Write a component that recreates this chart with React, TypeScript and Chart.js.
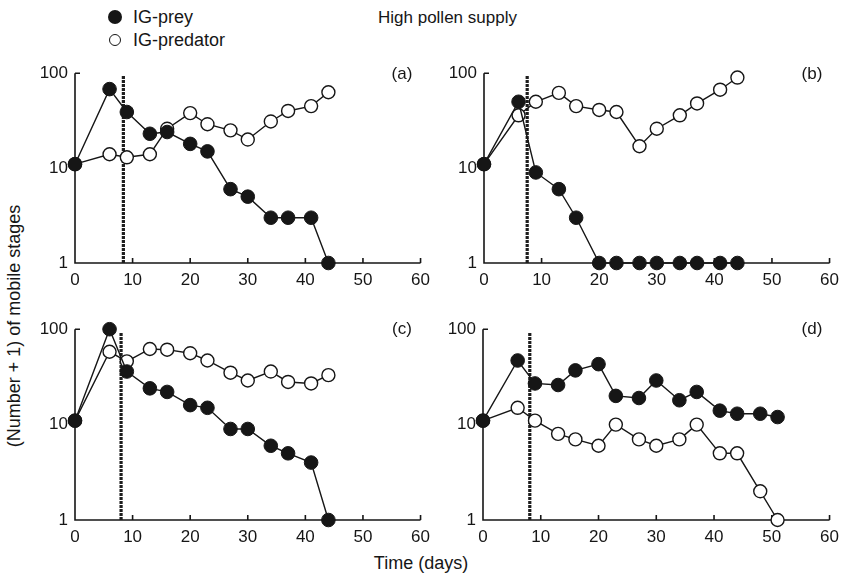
import React, { useEffect, useRef } from "react";
import { Chart, registerables } from "chart.js";

Chart.register(...registerables);

// ---- data ----
const X_TICKS = [0, 10, 20, 30, 40, 50, 60];
const Y_TICKS = [1, 10, 100];

const daysA = [0, 6, 9, 13, 16, 20, 23, 27, 30, 34, 37, 41, 44];
const preyA = [11, 68, 39, 23, 24, 18, 15, 6, 5, 3, 3, 3, 1];
const predA = [11, 14, 13, 14, 26, 38, 29, 25, 20, 31, 40, 45, 63];

const daysB = [0, 6, 9, 13, 16, 20, 23, 27, 30, 34, 37, 41, 44];
const preyB = [11, 50, 9, 6, 3, 1, 1, 1, 1, 1, 1, 1, 1];
const predB = [11, 36, 50, 62, 45, 41, 39, 17, 26, 36, 48, 67, 90];

const daysC = [0, 6, 9, 13, 16, 20, 23, 27, 30, 34, 37, 41, 44];
const preyC = [11, 100, 36, 24, 22, 16, 15, 9, 9, 6, 5, 4, 1];
const predC = [11, 58, 46, 62, 61, 56, 47, 35, 29, 36, 28, 27, 33];

const daysD = [0, 6, 9, 13, 16, 20, 23, 27, 30, 34, 37, 41, 44, 48, 51];
const preyD = [11, 47, 27, 26, 37, 43, 20, 19, 29, 18, 22, 14, 13, 13, 12];
const predD = [11, 15, 11, 8, 7, 6, 10, 7, 6, 7, 10, 5, 5, 2, 1];

const removalDays = [8.4, 7.5, 8.0, 8.1];
const removalTop = [94, 94, 92, 92];
const panelLabels = ["(a)", "(b)", "(c)", "(d)"];

const FONT = "'Liberation Sans', Arial, Helvetica, sans-serif";
const INK = "#161616";

const PAD_L = 40;
const PAD_T = 14;
const PAD_R = 16;
const PAD_B = 30;

type Rect = { x0: number; x60: number; yTop: number; yBot: number };

const axesPlugin = {
  id: "customAxes",
  beforeDatasetsDraw(chart: any) {
    const { ctx, chartArea, scales } = chart;
    const { left, right, top, bottom } = chartArea;
    ctx.save();
    ctx.strokeStyle = INK;
    ctx.lineWidth = 1.6;
    ctx.beginPath();
    ctx.moveTo(left, top);
    ctx.lineTo(left, bottom);
    ctx.lineTo(right, bottom);
    X_TICKS.forEach((v) => {
      const px = scales.x.getPixelForValue(v);
      ctx.moveTo(px, bottom);
      ctx.lineTo(px, bottom - 5);
    });
    Y_TICKS.forEach((v) => {
      const py = scales.y.getPixelForValue(v);
      ctx.moveTo(left, py);
      ctx.lineTo(left + 5, py);
    });
    ctx.stroke();
    ctx.restore();
  },
};

function Panel(props: {
  rect: Rect;
  days: number[];
  prey: number[];
  pred: number[];
  removal: number;
  removalTop: number;
}) {
  const ref = useRef<HTMLCanvasElement | null>(null);
  const { rect, days, prey, pred, removal, removalTop } = props;
  const width = rect.x60 - rect.x0 + PAD_L + PAD_R;
  const height = rect.yBot - rect.yTop + PAD_T + PAD_B;

  useEffect(() => {
    if (!ref.current) return;
    const chart = new Chart(ref.current, {
      type: "line",
      data: {
        datasets: [
          {
            label: "IG-prey",
            data: days.map((d, i) => ({ x: d, y: prey[i] })),
            borderColor: INK,
            borderWidth: 1.4,
            pointRadius: 6.8,
            pointBackgroundColor: INK,
            pointBorderColor: INK,
            pointBorderWidth: 1,
            clip: false,
          },
          {
            label: "IG-predator",
            data: days.map((d, i) => ({ x: d, y: pred[i] })),
            borderColor: INK,
            borderWidth: 1.4,
            pointRadius: 6.5,
            pointBackgroundColor: "#ffffff",
            pointBorderColor: INK,
            pointBorderWidth: 1.4,
            clip: false,
          },
          {
            label: "removal",
            data: [
              { x: removal, y: 1 },
              { x: removal, y: removalTop },
            ],
            borderColor: "#1e1e1e",
            borderWidth: 3.2,
            borderDash: [3, 1],
            pointRadius: 0,
            clip: false,
          },
        ],
      } as any,
      options: {
        responsive: false,
        animation: false,
        devicePixelRatio: 1,
        layout: { padding: { left: 0, top: PAD_T, right: PAD_R, bottom: 0 } },
        plugins: {
          legend: { display: false },
          tooltip: { enabled: false },
        },
        scales: {
          x: {
            type: "linear",
            min: 0,
            max: 60,
            grid: { display: false, drawTicks: false },
            border: { display: false },
            afterBuildTicks(s: any) {
              s.ticks = X_TICKS.map((v) => ({ value: v }));
            },
            afterFit(s: any) {
              s.height = PAD_B;
            },
            ticks: {
              color: INK,
              padding: 7,
              maxRotation: 0,
              font: { family: FONT, size: 17 },
              callback: (v: any) => String(v),
            },
          },
          y: {
            type: "logarithmic",
            min: 1,
            max: 100,
            grid: { display: false, drawTicks: false },
            border: { display: false },
            afterBuildTicks(s: any) {
              s.ticks = Y_TICKS.map((v) => ({ value: v }));
            },
            afterFit(s: any) {
              s.width = PAD_L;
            },
            ticks: {
              color: INK,
              padding: 7,
              font: { family: FONT, size: 17 },
              callback: (v: any) => String(v),
            },
          },
        },
      } as any,
      plugins: [axesPlugin],
    });
    return () => chart.destroy();
  }, []);

  return (
    <canvas
      ref={ref}
      width={width}
      height={height}
      style={{
        position: "absolute",
        left: rect.x0 - PAD_L,
        top: rect.yTop - PAD_T,
        width,
        height,
      }}
    />
  );
}

const rects: Rect[] = [
  { x0: 75, x60: 421, yTop: 70, yBot: 263 },
  { x0: 484, x60: 830, yTop: 70, yBot: 263 },
  { x0: 75, x60: 421, yTop: 326, yBot: 520 },
  { x0: 483, x60: 830, yTop: 326, yBot: 520 },
];

const panelData = [
  { days: daysA, prey: preyA, pred: predA },
  { days: daysB, prey: preyB, pred: predB },
  { days: daysC, prey: preyC, pred: predC },
  { days: daysD, prey: preyD, pred: predD },
];

const labelPos = [
  { x: 402, y: 73 },
  { x: 812, y: 73 },
  { x: 402, y: 328 },
  { x: 812, y: 328 },
];

const textStyle: React.CSSProperties = {
  position: "absolute",
  fontFamily: FONT,
  color: INK,
  whiteSpace: "nowrap",
  lineHeight: 1,
};

export default function App() {
  return (
    <div
      style={{
        position: "fixed",
        left: 0,
        top: 0,
        width: 841,
        height: 574,
        background: "#ffffff",
        overflow: "hidden",
      }}
    >
      {rects.map((r, i) => (
        <Panel
          key={i}
          rect={r}
          days={panelData[i].days}
          prey={panelData[i].prey}
          pred={panelData[i].pred}
          removal={removalDays[i]}
          removalTop={removalTop[i]}
        />
      ))}
      {panelLabels.map((t, i) => (
        <div
          key={t}
          style={{
            ...textStyle,
            left: labelPos[i].x,
            top: labelPos[i].y,
            fontSize: 17,
            transform: "translate(-50%, -50%)",
          }}
        >
          {t}
        </div>
      ))}
      {/* legend */}
      <div
        style={{
          position: "absolute",
          left: 108,
          top: 10,
          width: 14,
          height: 14,
          borderRadius: "50%",
          background: INK,
        }}
      />
      <div
        style={{
          position: "absolute",
          left: 109,
          top: 34,
          width: 10,
          height: 10,
          borderRadius: "50%",
          border: `1.5px solid ${INK}`,
          background: "#fff",
        }}
      />
      <div style={{ ...textStyle, left: 133, top: 17, fontSize: 18, transform: "translateY(-50%)" }}>
        IG-prey
      </div>
      <div style={{ ...textStyle, left: 133, top: 40, fontSize: 18, transform: "translateY(-50%)" }}>
        IG-predator
      </div>
      <div style={{ ...textStyle, left: 378, top: 17, fontSize: 17, transform: "translateY(-50%)" }}>
        High pollen supply
      </div>
      <div
        style={{
          ...textStyle,
          left: 421,
          top: 563,
          fontSize: 18,
          transform: "translate(-50%, -50%)",
        }}
      >
        Time (days)
      </div>
      <div
        style={{
          ...textStyle,
          left: 14,
          top: 326,
          fontSize: 18,
          transform: "translate(-50%, -50%) rotate(-90deg)",
        }}
      >
        (Number + 1) of mobile stages
      </div>
    </div>
  );
}
